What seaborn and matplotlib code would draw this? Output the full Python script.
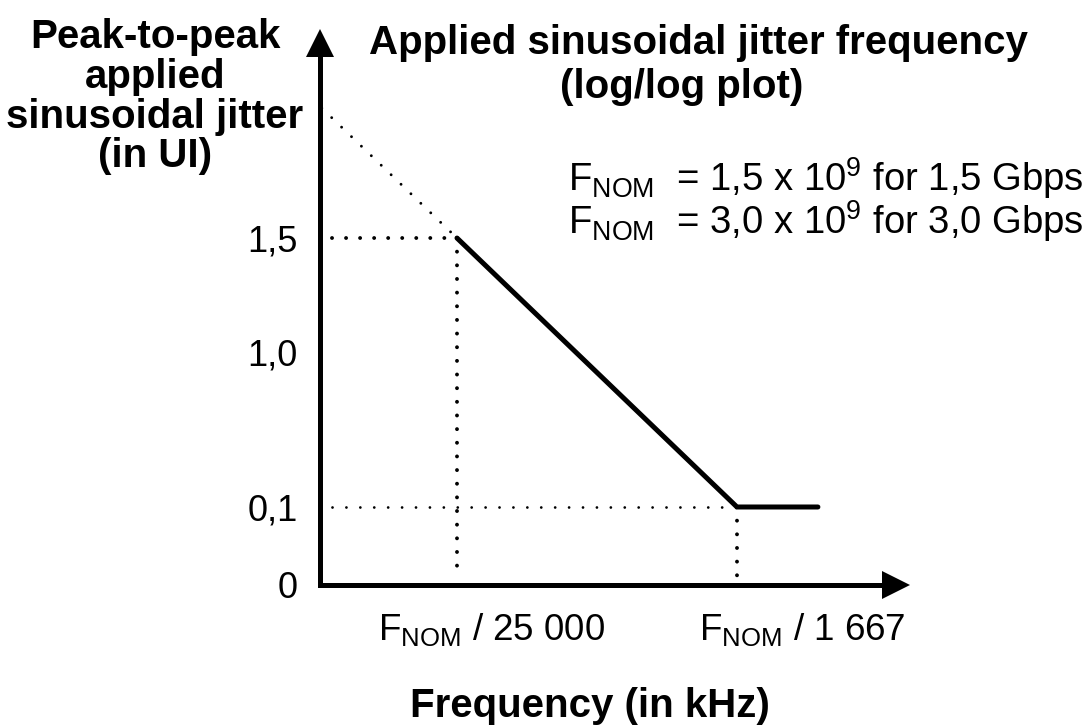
import numpy as np
import pandas as pd
import matplotlib
matplotlib.use("Agg")
import matplotlib.pyplot as plt
import matplotlib.transforms as mtransforms
import seaborn as sns

# ---------------- data ----------------
corner_divisors = [25000, 1667]           # corner frequencies = F_NOM / divisor
corner_jitter = [1.5, 0.1]                # UI at the corners
plateau_end_divisor = 762                 # end of the drawn 0,1 UI plateau
freq_labels = [r"$\mathregular{F_{NOM}}$ / 25 000", r"$\mathregular{F_{NOM}}$ / 1 667"]
y_levels = [0.0, 0.1, 1.0, 1.5]
y_labels = ["0", "0,1", "1,0", "1,5"]
fnom_lines = [r"$\mathregular{F_{NOM}}$  = 1,5 x 10$\mathregular{^{9}}$ for 1,5 Gbps",
              r"$\mathregular{F_{NOM}}$  = 3,0 x 10$\mathregular{^{9}}$ for 3,0 Gbps"]
ylabel_text = "Peak-to-peak\napplied\nsinusoidal jitter\n(in UI)"
title_lines = ["Applied sinusoidal jitter frequency", "(log/log plot)"]
xlabel_text = "Frequency (in kHz)"

# ---------------- layout (schematic axis) ----------------
y_pos = [0.0, 0.1403, 0.419, 0.624]       # axes-fraction height of each level
decade_h = 0.4114                         # axes-fraction per decade above 1,5
x_lim_divisors = (94060, 312.7)

sns.set_theme(style="white")
plt.rcParams["font.family"] = ["Liberation Sans", "DejaVu Sans"]
plt.rcParams["mathtext.default"] = "regular"
for k in ["text.color", "axes.labelcolor", "xtick.color", "ytick.color"]:
    plt.rcParams[k] = "black"

W, H = 1085, 725
fig = plt.figure(figsize=(W / 100, H / 100), dpi=100)
ax = fig.add_axes([320 / W, (H - 585) / H, 590 / W, 556 / H])


def fwd(v):
    v = np.asarray(v, dtype=float)
    lin = np.interp(v, y_levels, y_pos)
    above = y_pos[-1] + decade_h * np.log10(np.maximum(v, 1e-12) / y_levels[-1])
    return np.where(v > y_levels[-1], above, lin)


def inv(p):
    p = np.asarray(p, dtype=float)
    lin = np.interp(p, y_pos, y_levels)
    above = y_levels[-1] * 10 ** ((p - y_pos[-1]) / decade_h)
    return np.where(p > y_pos[-1], above, lin)


ax.set_xscale("log")
ax.set_yscale("function", functions=(fwd, inv))
xlo, xhi = 1 / x_lim_divisors[0], 1 / x_lim_divisors[1]
ax.set_xlim(xlo, xhi)
ax.set_ylim(0, float(inv(1.0)))

# mask curve
mask = pd.DataFrame({
    "f": [1 / corner_divisors[0], 1 / corner_divisors[1], 1 / plateau_end_divisor],
    "j": [corner_jitter[0], corner_jitter[1], corner_jitter[1]],
})
sns.lineplot(data=mask, x="f", y="j", ax=ax, color="black", lw=3.6,
             sort=False, estimator=None, solid_capstyle="round", solid_joinstyle="miter")

# dotted extension of the slope (jitter ~ 1/f) to the vertical axis
f_ext = xlo * (xhi / xlo) ** 0.003
j_ext = corner_jitter[0] * (1 / corner_divisors[0]) / f_ext
ax.plot([f_ext, 1 / corner_divisors[0]], [j_ext, corner_jitter[0]], color="black",
        lw=2.1, linestyle=(0, (0.01, 4.7)), dash_capstyle="round")

# dotted guides
x_start = xlo * (xhi / xlo) ** 0.02
y_stop = float(inv(0.012))
ax.plot([x_start, 1 / corner_divisors[0]], [corner_jitter[0]] * 2, color="black",
        lw=2.8, linestyle=(0, (0.01, 3.6)), dash_capstyle="round")
ax.plot([x_start, 1 / corner_divisors[1]], [corner_jitter[1]] * 2, color="black",
        lw=2.0, linestyle=(0, (0.01, 5.0)), dash_capstyle="round")
for d, j in zip(corner_divisors, corner_jitter):
    ax.plot([1 / d, 1 / d], [j, y_stop], color="black", lw=2.8,
            linestyle=(0, (0.01, 3.5)), dash_capstyle="round")

# axes with arrows
for s in ax.spines.values():
    s.set_visible(False)
ax.plot([0, 0], [0, 0.97], transform=ax.transAxes, color="black", lw=3.6,
        solid_capstyle="projecting", clip_on=False)
ax.plot([0, 0.97], [0, 0], transform=ax.transAxes, color="black", lw=3.6,
        solid_capstyle="projecting", clip_on=False)
up = mtransforms.offset_copy(ax.transAxes, fig=fig, x=0, y=-10, units="points")
right = mtransforms.offset_copy(ax.transAxes, fig=fig, x=-10, y=0, units="points")
ax.plot([0], [1], marker="^", ms=20, mew=0, color="black", transform=up, clip_on=False)
ax.plot([1], [0], marker=">", ms=20, mew=0, color="black", transform=right, clip_on=False)

# ticks
ax.set_yticks(y_levels)
ax.set_yticklabels(y_labels, fontsize=26)
ax.yaxis.set_minor_locator(matplotlib.ticker.NullLocator())
ax.xaxis.set_minor_locator(matplotlib.ticker.NullLocator())
ax.set_xticks([])
ax.tick_params(axis="y", length=0, pad=16, colors="black")
ax.set_xlabel("")
ax.set_ylabel("")

label_dx = [25, 47]
for d, lab, dx in zip(corner_divisors, freq_labels, label_dx):
    ax.annotate(lab, xy=(1 / d, 0), xycoords=("data", "axes fraction"),
                xytext=(dx, -39.5), textcoords="offset points",
                ha="center", va="baseline", fontsize=26.5, color="black",
                annotation_clip=False)

# texts
fig.text(155 / W, 1 - 18 / H, ylabel_text, ha="center", va="top", multialignment="center",
         fontsize=29, fontweight="bold", linespacing=1.06)
fig.text(698 / W, 1 - 54 / H, title_lines[0], ha="center", va="baseline",
         fontsize=29, fontweight="bold")
fig.text(682 / W, 1 - 98 / H, title_lines[1], ha="center", va="baseline",
         fontsize=29, fontweight="bold")
fig.text(590 / W, 1 - 717 / H, xlabel_text, ha="center", va="baseline",
         fontsize=29, fontweight="bold")
for i, line in enumerate(fnom_lines):
    fig.text(568 / W, 1 - (191 + 43 * i) / H, line, ha="left", va="baseline", fontsize=27.5)

fig.savefig("out.png", dpi=100, facecolor="white")
